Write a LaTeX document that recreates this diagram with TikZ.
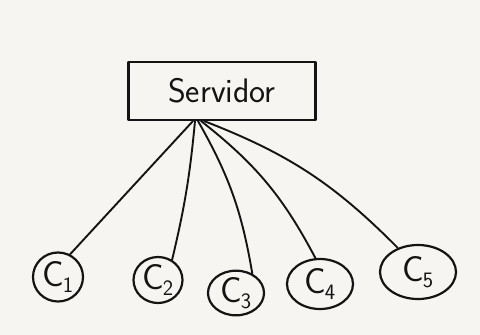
\documentclass[tikz,border=0pt]{standalone}
\usetikzlibrary{shapes.geometric}
\definecolor{paper}{RGB}{247,245,241}
\definecolor{ink}{RGB}{20,20,20}
\tikzset{
  ink/.style={draw=ink, line width=2.2pt, line cap=round, line join=round},
  server/.style={ink, rectangle, minimum width=187pt, minimum height=58pt,
    inner sep=0pt, font=\sffamily\fontsize{34}{38}\selectfont, text=ink},
  client/.style={ink, ellipse, inner sep=0pt, text=ink,
    font=\sffamily\fontsize{36}{38}\selectfont},
  link/.style={ink, line width=1.9pt}
}
\newcommand{\cl}[1]{C\kern-1pt\textsubscript{\fontsize{22}{24}\selectfont #1}}
\begin{document}
\begin{tikzpicture}[x=1pt, y=-1pt]
  \fill[paper] (0,0) rectangle (480,335);
  \useasboundingbox (0,0) rectangle (480,335);

  % server box and the point where all links meet
  \node[server] (srv) at (222,91) {Servidor};
  \coordinate (hub) at (198,121);

  % clients
  \node[client, minimum width=50pt, minimum height=49pt] (c1) at (58,277) {\cl{1}};
  \node[client, minimum width=49pt, minimum height=46pt] (c2) at (158,280) {\cl{2}};
  \node[client, minimum width=56pt, minimum height=44pt] (c3) at (236,293) {\cl{3}};
  \node[client, minimum width=66pt, minimum height=50pt] (c4) at (320,284) {\cl{4}};
  \node[client, minimum width=76pt, minimum height=54pt] (c5) at (418,272) {\cl{5}};

  % links from the server to each client
  \draw[link] ([xshift=-5pt]hub) -- (c1.62);
  \draw[link] ([xshift=-3pt]hub) to[bend left=4] (c2.55);
  \draw[link] (hub) to[bend left=10] (c3.50);
  \draw[link] ([xshift=3pt]hub) to[bend left=12] (c4.100);
  \draw[link] ([xshift=6pt]hub) to[bend left=12] (c5.130);
\end{tikzpicture}
\end{document}
